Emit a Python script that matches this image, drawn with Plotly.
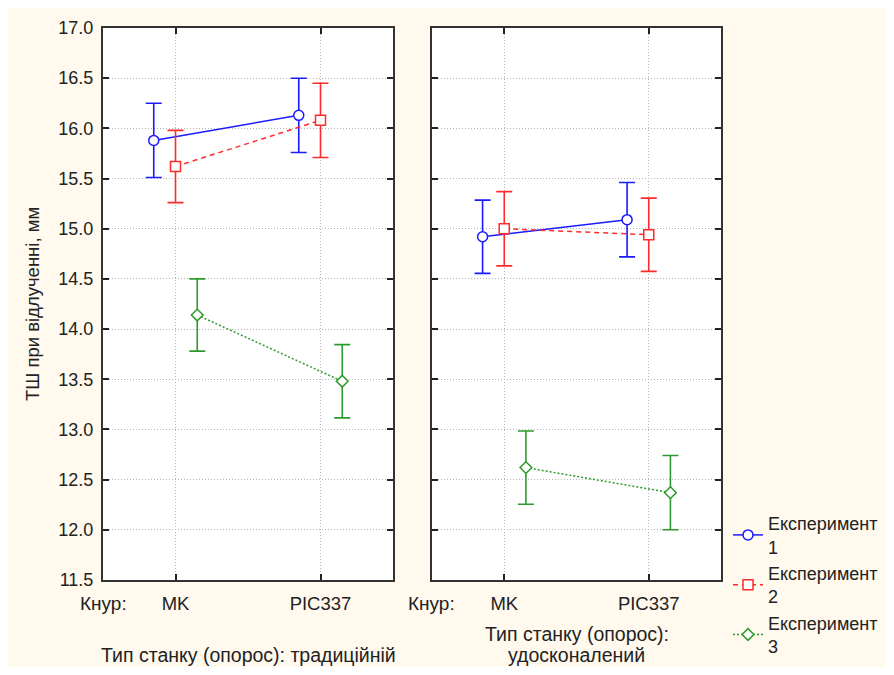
import plotly.graph_objects as go

# ---- data ----
categories = ["MK", "PIC337"]
series_names = ["Експеримент<br>1", "Експеримент<br>2", "Експеримент<br>3"]

# left panel: Тип станку (опорос): традиційній
trad_means = [
    [15.88, 16.13],   # Експеримент 1
    [15.62, 16.08],   # Експеримент 2
    [14.14, 13.48],   # Експеримент 3
]
trad_err = [
    [0.37, 0.37],
    [0.36, 0.37],
    [0.36, 0.365],
]
# right panel: Тип станку (опорос): удосконалений
impr_means = [
    [14.92, 15.09],
    [15.00, 14.94],
    [12.62, 12.37],
]
impr_err = [
    [0.365, 0.37],
    [0.37, 0.365],
    [0.365, 0.37],
]
y_ticks = [11.5, 12.0, 12.5, 13.0, 13.5, 14.0, 14.5, 15.0, 15.5, 16.0, 16.5, 17.0]
left_title = "Тип станку (опорос): традиційній"
right_title_lines = ["Тип станку (опорос):", "удосконалений"]
y_title = "ТШ при відлученні, мм"
factor_label = "Кнур:"

# ---- styles ----
colors = ["#1a1aff", "#ff2b2b", "#2e9a2e"]
dashes = ["solid", "5px,4px", "2px,2px"]
symbols = ["circle", "square", "diamond"]
msizes = [10, 10, 9]
offsets = [-0.15, 0.0, 0.15]
FONT = "Liberation Sans, Arial, sans-serif"
BG = "#fff9ee"

# page body keeps its default 8px margin, so the figure is made to fit inside the window
OFF = 8
W, H = 894 - 2 * OFF, 675 - 2 * OFF
ML, MT = 103 - OFF, 28 - OFF
MR = W - (721 - OFF)
MB = H - (580 - OFF)
PW = W - ML - MR
PH = H - MT - MB

def px_x(p):   # window pixel -> paper x
    return (p - OFF - ML) / PW

def px_y(p):   # window pixel -> paper y
    return (H - MB - (p - OFF)) / PH

fig = go.Figure()

for panel, (means, errs) in enumerate([(trad_means, trad_err), (impr_means, impr_err)]):
    xa = "x" if panel == 0 else "x2"
    ya = "y" if panel == 0 else "y2"
    for i in range(3):
        xs = [k + offsets[i] for k in range(len(categories))]
        fig.add_trace(go.Scatter(
            x=xs, y=means[i], xaxis=xa, yaxis=ya,
            mode="lines+markers",
            name=series_names[i],
            legendgroup=str(i),
            showlegend=(panel == 0),
            line=dict(color=colors[i], width=1.5, dash=dashes[i]),
            marker=dict(symbol=symbols[i], size=msizes[i], color="white",
                        line=dict(color=colors[i], width=1.5)),
            error_y=dict(type="data", array=errs[i], visible=True,
                         color=colors[i], thickness=1.6, width=8),
        ))

axis_common = dict(
    showline=True, mirror="ticks", linecolor="#333333", linewidth=2,
    ticks="inside", ticklen=6, tickwidth=1.5, tickcolor="#222222",
    showgrid=True, gridcolor="#b4b4b4", gridwidth=1, griddash="1px,2px",
    zeroline=False,
)

d1 = [0, px_x(393)]
d2 = [px_x(432), 1]

fig.update_layout(
    width=W, height=H,
    margin=dict(l=ML, r=MR, t=MT, b=MB, autoexpand=False),
    paper_bgcolor=BG, plot_bgcolor="white",
    font=dict(family=FONT, size=18, color="#222222"),
    xaxis=dict(domain=d1, range=[-0.5, 1.5], tickvals=[0, 1], ticktext=categories,
               anchor="y", ticklabelstandoff=6, tickfont=dict(size=18.5), **axis_common),
    xaxis2=dict(domain=d2, range=[-0.5, 1.5], tickvals=[0, 1], ticktext=categories,
                anchor="y2", ticklabelstandoff=6, tickfont=dict(size=18.5), **axis_common),
    yaxis=dict(range=[11.5, 17.0], tickvals=y_ticks, tickformat=".1f",
               anchor="x", ticklabelstandoff=4, tickfont=dict(size=18), **axis_common),
    yaxis2=dict(range=[11.5, 17.0], tickvals=y_ticks, showticklabels=False,
                anchor="x2", **axis_common),
    showlegend=True,
    legend=dict(x=px_x(728), y=px_y(505), xanchor="left", yanchor="top",
                bgcolor="rgba(0,0,0,0)", font=dict(size=18, color="#222222"),
                itemwidth=30, tracegroupgap=0),
)

# factor label "Кнур:" at left edge of each panel
for xr in ["x", "x2"]:
    fig.add_annotation(text=factor_label, x=-0.5, xref=xr, y=px_y(603), yref="paper",
                       xanchor="center", yanchor="middle", showarrow=False,
                       font=dict(size=19))

fig.add_annotation(text=left_title, x=0.5, xref="x", y=px_y(655), yref="paper",
                   xanchor="center", yanchor="middle", showarrow=False, font=dict(size=19.5))
for line_text, ypx in zip(right_title_lines, [634, 655]):
    fig.add_annotation(text=line_text, x=0.5, xref="x2", y=px_y(ypx), yref="paper",
                       xanchor="center", yanchor="middle", showarrow=False,
                       font=dict(size=19.5))
fig.add_annotation(text=y_title, x=px_x(32), xref="paper", y=px_y(304), yref="paper",
                   xanchor="center", yanchor="middle", textangle=-90, showarrow=False,
                   font=dict(size=18.5))

fig.write_html("out.html", config={"displayModeBar": False})
